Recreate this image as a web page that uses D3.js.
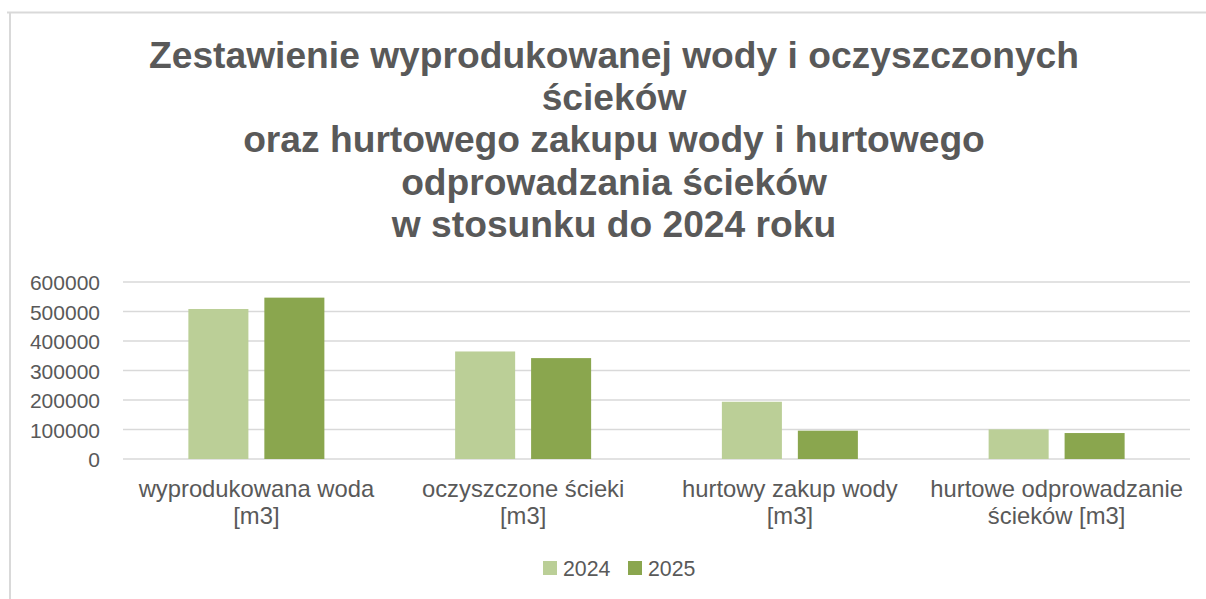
<!DOCTYPE html>
<html lang="pl">
	<head>
		<meta charset="utf-8">
		<title>Zestawienie wyprodukowanej wody</title>
		<script type="text/javascript" src="https://d3js.org/d3.v7.min.js"></script>
		<style type="text/css">
			body { margin: 0; background: #fff; }
			text { font-family: "Liberation Sans", Arial, sans-serif; fill: #595959; }
			.title { font-weight: bold; font-size: 37.2px; }
			.tick text { font-size: 21px; }
			.cat { font-size: 23.8px; }
			.legend { font-size: 21.3px; }
		</style>
	</head>
	<body>
		<script type="text/javascript">

			// data
			var titleLines = ["Zestawienie wyprodukowanej wody i oczyszczonych", "ścieków",
				"oraz hurtowego zakupu wody i hurtowego", "odprowadzania ścieków",
				"w stosunku do 2024 roku"];
			var categories = ["wyprodukowana woda\n[m3]", "oczyszczone ścieki\n[m3]",
				"hurtowy zakup wody\n[m3]", "hurtowe odprowadzanie\nścieków [m3]"];
			var seriesNames = ["2024", "2025"];
			var values2024 = [508500, 364500, 194000, 100500];
			var values2025 = [547000, 342000, 96000, 88000];
			var tickValues = [0, 100000, 200000, 300000, 400000, 500000, 600000];
			var colors = ["#BBCF97", "#8AA64E"];

			var w = 1206, h = 599;
			var margin = {left: 123, right: 16, top: 282, bottom: 140};

			var svg = d3.select("body").append("svg")
				.attr("width", w)
				.attr("height", h);

			// outer frame
			svg.append("line").attr("x1", 7).attr("x2", w).attr("y1", 12.5).attr("y2", 12.5)
				.style("stroke", "#d9d9d9").style("stroke-width", 2);
			svg.append("line").attr("x1", 10).attr("x2", 10).attr("y1", 13).attr("y2", h)
				.style("stroke", "#d9d9d9").style("stroke-width", 2);

			// title
			svg.append("text")
				.attr("class", "title")
				.attr("text-anchor", "middle")
				.selectAll("tspan")
				.data(titleLines)
				.enter().append("tspan")
				.attr("x", 614)
				.attr("y", function(d, i) { return 68 + i * 42.2; })
				.text(function(d) { return d; });

			var x = d3.scaleBand()
				.domain(categories)
				.range([margin.left, w - margin.right]);

			var x1 = d3.scaleBand()
				.domain(seriesNames)
				.range([0, 136])
				.paddingInner(0.21);

			var y = d3.scaleLinear()
				.domain([0, 600000])
				.range([h - margin.bottom, margin.top]);

			// gridlines
			svg.append("g")
				.selectAll("line")
				.data(tickValues)
				.enter().append("line")
				.attr("x1", margin.left)
				.attr("x2", w - margin.right)
				.attr("y1", function(d) { return y(d); })
				.attr("y2", function(d) { return y(d); })
				.style("stroke", "#d9d9d9")
				.style("stroke-width", 1.5);

			// y axis labels
			var yAxis = svg.append("g")
				.attr("transform", "translate(100,0)")
				.call(d3.axisLeft(y).tickValues(tickValues).tickSize(0).tickPadding(0).tickFormat(d3.format("d")));
			yAxis.select(".domain").remove();
			yAxis.selectAll("text").style("font-family", null).attr("dy", "0.36em");

			// bars
			var series = [values2024, values2025];
			var groups = svg.selectAll("g.cat-group")
				.data(categories)
				.enter().append("g")
				.attr("class", "cat-group")
				.attr("transform", function(d) { return "translate(" + (x(d) + x.bandwidth() / 2 - 68) + ",0)"; });

			groups.selectAll("rect")
				.data(function(d, i) { return series.map(function(s, j) { return {name: seriesNames[j], value: s[i]}; }); })
				.enter().append("rect")
				.attr("x", function(d) { return x1(d.name); })
				.attr("width", x1.bandwidth())
				.attr("y", function(d) { return y(d.value); })
				.attr("height", function(d) { return y(0) - y(d.value); })
				.style("fill", function(d, j) { return colors[j]; });

			// category labels
			groups.append("text")
				.attr("class", "cat")
				.attr("text-anchor", "middle")
				.selectAll("tspan")
				.data(function(d) { return d.split("\n"); })
				.enter().append("tspan")
				.attr("x", 68)
				.attr("y", function(d, i) { return 497 + i * 27; })
				.text(function(d) { return d; });

			// legend
			var legend = svg.selectAll("g.legend")
				.data(seriesNames)
				.enter().append("g")
				.attr("class", "legend")
				.attr("transform", function(d, i) { return "translate(" + (543 + i * 85) + ",561)"; });

			legend.append("rect")
				.attr("width", 14)
				.attr("height", 14)
				.style("fill", function(d, i) { return colors[i]; });

			legend.append("text")
				.attr("x", 20)
				.attr("y", 15)
				.text(function(d) { return d; });

		</script>
	</body>
</html>
